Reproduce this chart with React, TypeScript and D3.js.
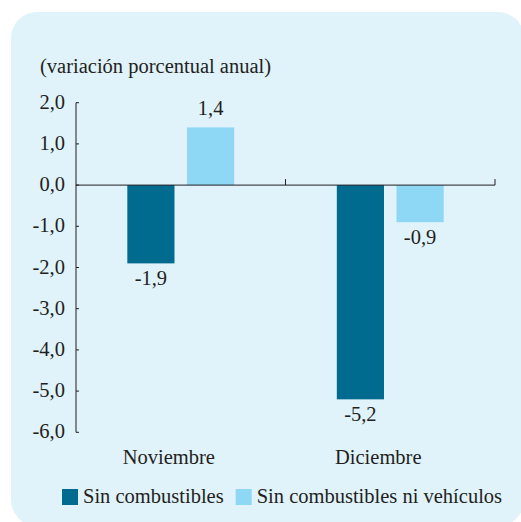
import React, { useEffect, useRef } from 'react';
import * as d3 from 'd3';

const categories = ['Noviembre', 'Diciembre'];
const seriesNames = ['Sin combustibles', 'Sin combustibles ni vehículos'];
const sinCombustibles = [-1.9, -5.2];
const sinCombustiblesNiVehiculos = [1.4, -0.9];
const yTicks = [2, 1, 0, -1, -2, -3, -4, -5, -6];

const colors = ['#006a8f', '#8ed8f6'];
const fmt = (v: number) => v.toFixed(1).replace('.', ',');

const App = () => {
    const svgRef = useRef<SVGSVGElement>(null);
    const width = 521;
    const height = 522;

    useEffect(() => {
        const svg = d3.select(svgRef.current);
        svg.selectAll('*').remove();

        const textColor = '#231f20';
        const axisColor = '#231f20';

        const addText = (x: number, y: number, s: string, anchor = 'start') =>
            svg.append('text')
                .attr('x', x).attr('y', y)
                .attr('text-anchor', anchor)
                .attr('fill', textColor)
                .text(s);

        // background panel
        svg.append('rect')
            .attr('x', 11).attr('y', 12)
            .attr('width', 513).attr('height', 514)
            .attr('rx', 26).attr('ry', 26)
            .attr('fill', '#e0f2fa');

        const left = 76, right = 495, top = 102.7, bottom = 432.3;

        const y = d3.scaleLinear().domain([2, -6]).range([top, bottom]);
        const x0 = d3.scaleBand<string>()
            .domain(categories)
            .range([left, right])
            .paddingInner(0.49)
            .paddingOuter(0.245);
        const x1 = d3.scaleBand<number>()
            .domain([0, 1])
            .range([0, x0.bandwidth()])
            .paddingInner(0.21);

        const rows = categories.map((c, i) => ({
            cat: c,
            values: [sinCombustibles[i], sinCombustiblesNiVehiculos[i]],
        }));

        // title
        addText(40, 73, '(variación porcentual anual)');

        // bars + value labels
        rows.forEach(r => {
            r.values.forEach((v, si) => {
                const bx = (x0(r.cat) as number) + (x1(si) as number);
                svg.append('rect')
                    .attr('x', bx)
                    .attr('y', y(Math.max(0, v)))
                    .attr('width', x1.bandwidth())
                    .attr('height', Math.abs(y(v) - y(0)))
                    .attr('fill', colors[si]);
                addText(bx + x1.bandwidth() / 2, v >= 0 ? y(v) - 12 : y(v) + 22, fmt(v), 'middle');
            });
        });

        // y axis
        svg.append('line')
            .attr('x1', left).attr('x2', left)
            .attr('y1', y(2)).attr('y2', y(-6))
            .attr('stroke', axisColor).attr('stroke-width', 1);
        yTicks.forEach(t => {
            svg.append('line')
                .attr('x1', left).attr('x2', left + 3)
                .attr('y1', y(t)).attr('y2', y(t))
                .attr('stroke', axisColor).attr('stroke-width', 1);
            addText(65, y(t) + 6, fmt(t), 'end');
        });

        // zero line with category dividers
        svg.append('line')
            .attr('x1', left).attr('x2', right)
            .attr('y1', y(0)).attr('y2', y(0))
            .attr('stroke', axisColor).attr('stroke-width', 1);
        const step = x0.step();
        [left + step, left + 2 * step].forEach(tx => {
            svg.append('line')
                .attr('x1', tx).attr('x2', tx)
                .attr('y1', y(0) - 6).attr('y2', y(0))
                .attr('stroke', axisColor).attr('stroke-width', 1);
        });

        // category labels
        categories.forEach(c => {
            addText((x0(c) as number) + x0.bandwidth() / 2 - 12, 464, c, 'middle');
        });

        // legend
        let lx = 62;
        seriesNames.forEach((name, i) => {
            svg.append('rect')
                .attr('x', lx).attr('y', 489)
                .attr('width', 16).attr('height', 16)
                .attr('fill', colors[i]);
            const t = addText(lx + 21, 503, name);
            const w = (t.node() as SVGTextElement).getComputedTextLength();
            lx = lx + 21 + w + 12;
        });
    }, []);

    return (
        <svg ref={svgRef} width={width} height={height}
            fontFamily="Liberation Serif, Times New Roman, serif" fontSize={20.5}
            style={{ position: 'absolute', left: 0, top: 0, background: '#fff' }} />
    );
};

export default App;
